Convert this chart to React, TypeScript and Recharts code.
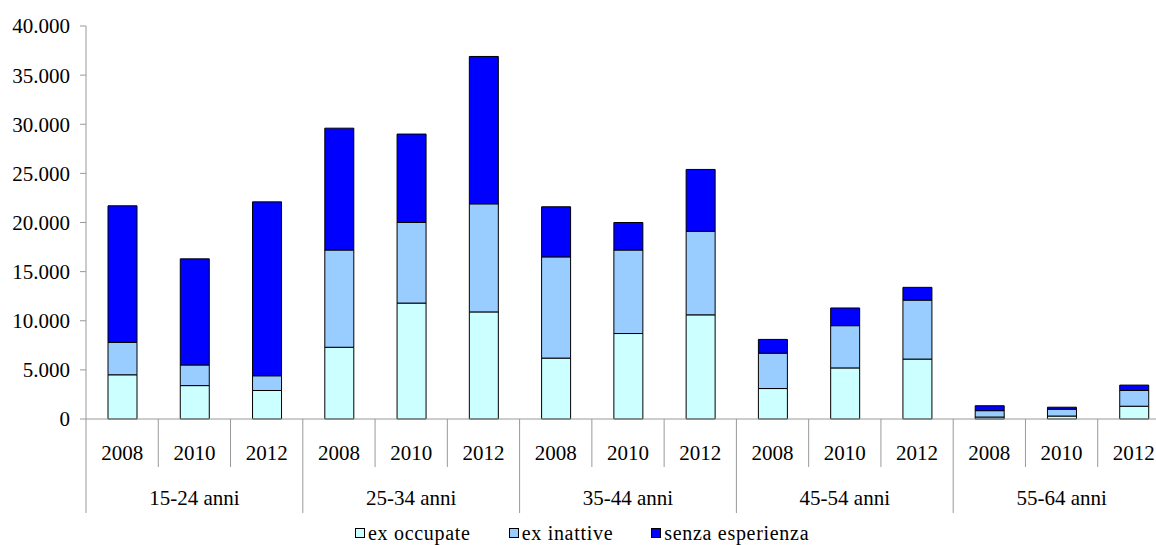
import React from 'react';
import { BarChart, Bar, XAxis, YAxis } from 'recharts';

const years = ['2008', '2010', '2012'];
const ageGroups = ['15-24 anni', '25-34 anni', '35-44 anni', '45-54 anni', '55-64 anni'];

// valori, in ordine classe d'età x anno
const exOccupate = [4500, 3400, 2900, 7300, 11800, 10900, 6200, 8700, 10600, 3100, 5200, 6100, 200, 300, 1300];
const exInattive = [3300, 2100, 1500, 9900, 8200, 11000, 10300, 8500, 8500, 3600, 4300, 6000, 650, 700, 1600];
const senzaEsperienza = [13900, 10800, 17700, 12400, 9000, 15000, 5100, 2800, 6300, 1400, 1800, 1300, 500, 200, 550];

const yTicks = [0, 5000, 10000, 15000, 20000, 25000, 30000, 35000, 40000];

const series = [
  { key: 'exOccupate', name: 'ex occupate', color: '#CCFFFF' },
  { key: 'exInattive', name: 'ex inattive', color: '#99CCFF' },
  { key: 'senzaEsperienza', name: 'senza esperienza', color: '#0000FF' },
];

const data = ageGroups.flatMap((group, g) =>
  years.map((year, y) => {
    const i = g * years.length + y;
    return {
      key: `${group} ${year}`,
      group,
      year,
      exOccupate: exOccupate[i],
      exInattive: exInattive[i],
      senzaEsperienza: senzaEsperienza[i],
    };
  })
);

const CHART_W = 1180;
const CHART_H = 545;
const MARGIN = { top: 26, right: 10, bottom: 32, left: 0 };
const Y_W = 86;
const BAND = (CHART_W - MARGIN.left - MARGIN.right - Y_W) / data.length;
const FONT = '"Liberation Serif", "Times New Roman", serif';
const AXIS = '#999';

const fmt = (v: number) => String(v).replace(/\B(?=(\d{3})+(?!\d))/g, '.');

function YearTick(props: any) {
  const { x, y, payload } = props;
  const i = payload.index ?? props.index;
  const row = data[i];
  const left = x - BAND / 2;
  return (
    <g>
      <line x1={left} x2={left} y1={y} y2={y + 48} stroke={AXIS} />
      {i === data.length - 1 && <line x1={x + BAND / 2} x2={x + BAND / 2} y1={y} y2={y + 48} stroke={AXIS} />}
      <text x={x} y={y + 34} dy="0.35em" textAnchor="middle" fill="#000" fontSize={21} fontFamily={FONT}>
        {row ? row.year : ''}
      </text>
    </g>
  );
}

function GroupTick(props: any) {
  const { x, y, payload } = props;
  const i = payload.index ?? props.index;
  const row = data[i];
  const pos = i % years.length;
  return (
    <g>
      {pos === 0 && <line x1={x - BAND / 2} x2={x - BAND / 2} y1={y} y2={y + 46} stroke={AXIS} />}
      {i === data.length - 1 && <line x1={x + BAND / 2} x2={x + BAND / 2} y1={y} y2={y + 46} stroke={AXIS} />}
      {pos === 1 && (
        <text x={x} y={y + 31} dy="0.35em" textAnchor="middle" fill="#000" fontSize={21} fontFamily={FONT}>
          {row ? row.group : ''}
        </text>
      )}
    </g>
  );
}

export default function App() {
  return (
    <div style={{ position: 'absolute', left: 0, top: 0, width: 1156, height: 545, overflow: 'hidden', background: '#fff' }}>
      <BarChart width={CHART_W} height={CHART_H} data={data} margin={MARGIN} barSize={29}>
        <XAxis
          dataKey="key"
          interval={0}
          tickLine={false}
          tickSize={0}
          tickMargin={0}
          height={48}
          axisLine={{ stroke: AXIS }}
          tick={(p: any) => <YearTick {...p} />}
        />
        <XAxis
          xAxisId="group"
          dataKey="key"
          interval={0}
          tickLine={false}
          tickSize={0}
          tickMargin={0}
          height={46}
          axisLine={false}
          tick={(p: any) => <GroupTick {...p} />}
        />
        <YAxis
          width={Y_W}
          domain={[0, 40000]}
          ticks={yTicks}
          interval={0}
          tickFormatter={fmt}
          axisLine={{ stroke: AXIS }}
          tickLine={{ stroke: AXIS }}
          tickSize={6}
          tickMargin={10}
          tick={{ fill: '#000', fontSize: 21, fontFamily: FONT }}
        />
        {series.map((s) => (
          <Bar
            key={s.key}
            dataKey={s.key}
            name={s.name}
            stackId="a"
            fill={s.color}
            stroke="#000"
            strokeWidth={1}
            isAnimationActive={false}
          />
        ))}
      </BarChart>
      <div
        style={{
          position: 'absolute',
          left: 355,
          top: 524,
          display: 'flex',
          gap: 38,
          fontFamily: FONT,
          fontSize: 20,
          letterSpacing: 0.7,
          lineHeight: '18px',
          color: '#000',
        }}
      >
        {series.map((s) => (
          <div key={s.key} style={{ display: 'flex', alignItems: 'center' }}>
            <span
              style={{
                display: 'inline-block',
                width: 8,
                height: 8,
                border: '1px solid #000',
                background: s.color,
                marginRight: 3,
              }}
            />
            <span>{s.name}</span>
          </div>
        ))}
      </div>
    </div>
  );
}
